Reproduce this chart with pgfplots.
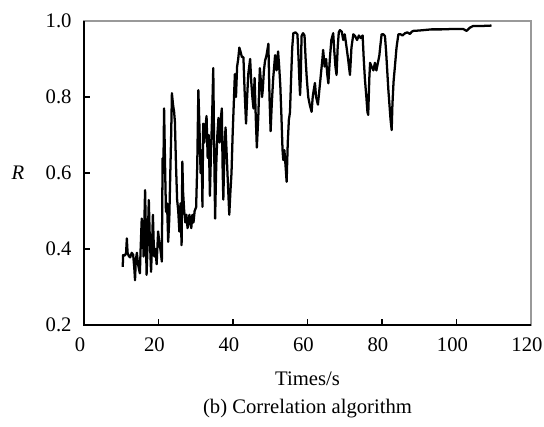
\documentclass[border=0pt]{standalone}
\usepackage{fontspec}
\setmainfont{Liberation Serif}
\usepackage{pgfplots}
\pgfplotsset{compat=1.18}
\usetikzlibrary{calc}
\begin{document}
\fontsize{15.5}{18}\selectfont
\begin{tikzpicture}
\useasboundingbox (-63pt,-75.75pt) rectangle (345pt,243.75pt);
\begin{axis}[
  name=ax,
  at={(0,0)}, anchor=south west,
  width=335.25pt, height=228pt, scale only axis,
  xmin=0, xmax=120, ymin=0.2, ymax=1.0,
  xtick={0,20,...,120},
  ytick={0.2,0.4,0.6,0.8,1.0},
  yticklabels={0.2,0.4,0.6,0.8,1.0},
  xtick pos=bottom, ytick pos=left,
  tick align=inside,
  major tick length=4.5pt,
  tick style={black, line width=1pt},
  axis line style={draw=gray!80, line width=1.1pt},
  /pgf/number format/assume math mode=true,
  ticklabel style={font=\fontsize{15.5}{18}\selectfont},
  xticklabel style={yshift=-4pt, xshift=-3pt},
  yticklabel style={xshift=-4pt},
  xlabel={Times/s},
  xlabel style={font=\fontsize{15.5}{18}\selectfont, yshift=-5pt},
  clip=false,
]
\draw[black, line width=1.6pt] (rel axis cs:0,1) -- (rel axis cs:0,0) -- (rel axis cs:1,0);
\addplot[black, line width=1.7pt, line join=round, mark=none] coordinates {
(10.4,0.353) (10.5,0.384) (11.0,0.383) (11.3,0.39) (11.5,0.428) (11.7,0.39)
(12.0,0.382) (12.4,0.378) (12.8,0.39) (13.2,0.385) (13.5,0.35) (13.7,0.318)
(13.9,0.37) (14.2,0.39) (14.5,0.36) (15.0,0.336) (15.2,0.40) (15.5,0.48)
(15.8,0.45) (16.0,0.38) (16.2,0.47) (16.4,0.555) (16.6,0.45) (16.8,0.332)
(17.1,0.42) (17.4,0.529) (17.6,0.45) (18.0,0.34) (18.3,0.42) (18.5,0.49)
(18.7,0.42) (18.9,0.38) (19.2,0.40) (19.5,0.36) (19.9,0.446) (20.2,0.42)
(20.5,0.40) (20.9,0.367) (21.1,0.639) (21.3,0.60) (21.5,0.77) (21.8,0.60)
(22.0,0.498) (22.3,0.52) (22.6,0.419) (22.9,0.48) (23.1,0.57) (23.4,0.70)
(23.6,0.81) (23.9,0.78) (24.2,0.76) (24.4,0.735) (24.7,0.62) (25.0,0.53)
(25.3,0.50) (25.6,0.446) (25.9,0.52) (26.2,0.41) (26.4,0.63) (26.6,0.55)
(26.9,0.50) (27.2,0.47) (27.5,0.49) (27.8,0.455) (28.1,0.47) (28.3,0.49)
(28.6,0.47) (28.8,0.455) (29.1,0.49) (29.4,0.47) (29.7,0.50) (30.1,0.51)
(30.4,0.62) (30.7,0.818) (31.0,0.72) (31.3,0.60) (31.6,0.66) (31.8,0.511)
(32.0,0.73) (32.3,0.68) (32.6,0.72) (32.9,0.75) (33.2,0.64) (33.5,0.70)
(33.8,0.54) (34.1,0.66) (34.4,0.75) (34.7,0.876) (34.9,0.70) (35.2,0.48)
(35.5,0.62) (35.8,0.70) (36.1,0.745) (36.4,0.68) (36.7,0.74) (37.0,0.77)
(37.2,0.62) (37.4,0.53) (37.7,0.66) (38.0,0.72) (38.3,0.65) (38.6,0.58)
(39.0,0.49) (39.3,0.55) (39.6,0.60) (39.9,0.70) (40.2,0.78) (40.5,0.86)
(40.8,0.80) (41.1,0.88) (41.4,0.90) (41.7,0.93) (42.0,0.92) (42.4,0.905)
(42.8,0.905) (43.1,0.82) (43.5,0.73) (43.8,0.80) (44.1,0.86) (44.6,0.90)
(44.9,0.84) (45.2,0.80) (45.5,0.77) (45.8,0.85) (46.1,0.75) (46.4,0.667)
(46.8,0.75) (47.2,0.876) (47.5,0.84) (47.8,0.80) (48.0,0.82) (48.3,0.87)
(48.6,0.895) (49.0,0.91) (49.5,0.94) (49.8,0.80) (50.1,0.71) (50.4,0.78)
(50.8,0.85) (51.3,0.91) (51.7,0.87) (52.1,0.92) (52.4,0.88) (52.7,0.83)
(53.0,0.75) (53.3,0.66) (53.5,0.634) (53.8,0.66) (54.1,0.62) (54.4,0.577)
(54.7,0.68) (55.0,0.74) (55.3,0.76) (55.6,0.85) (55.9,0.93) (56.2,0.968)
(56.8,0.97) (57.3,0.965) (57.6,0.90) (57.8,0.85) (58.0,0.805) (58.2,0.85)
(58.4,0.96) (58.8,0.968) (59.2,0.962) (59.5,0.90) (59.8,0.85) (60.2,0.80)
(60.6,0.78) (61.1,0.761) (61.4,0.80) (61.7,0.82) (62.0,0.837) (62.3,0.80)
(62.8,0.78) (63.2,0.82) (63.6,0.86) (64.0,0.90) (64.2,0.924) (64.6,0.88)
(65.0,0.90) (65.3,0.86) (65.6,0.836) (66.0,0.90) (66.4,0.95) (66.9,0.968)
(67.2,0.92) (67.5,0.88) (67.8,0.858) (68.1,0.93) (68.4,0.97) (68.7,0.976)
(69.2,0.972) (69.6,0.95) (70.0,0.965) (70.5,0.93) (70.9,0.90) (71.4,0.858)
(71.8,0.93) (72.3,0.965) (72.8,0.96) (73.3,0.95) (73.8,0.962) (74.3,0.955)
(74.8,0.962) (75.1,0.90) (75.4,0.849) (75.8,0.80) (76.1,0.76) (76.3,0.753)
(76.6,0.85) (76.8,0.89) (77.2,0.88) (77.7,0.87) (78.1,0.89) (78.5,0.87)
(78.9,0.89) (79.3,0.91) (79.5,0.93) (79.9,0.965) (80.4,0.965) (80.8,0.96)
(81.1,0.92) (81.4,0.87) (81.7,0.82) (82.0,0.78) (82.3,0.74) (82.6,0.713)
(82.8,0.78) (83.1,0.84) (83.5,0.884) (83.9,0.93) (84.4,0.965) (85.0,0.965)
(85.5,0.962) (86.2,0.968) (86.8,0.97) (87.5,0.966) (88.0,0.972) (88.4,0.974)
(90,0.975) (93.3,0.978) (96,0.978) (99,0.979) (101.8,0.979) (102.7,0.974)
(103.5,0.982) (104.5,0.987) (107,0.987) (109.4,0.988)
};
\end{axis}
\node[font=\fontsize{15.5}{18}\selectfont] at ($(ax.west)+(-49.5pt,0)$) {\textit{R}};
\node[font=\fontsize{15.5}{18}\selectfont] at ($(ax.south)+(0,-63pt)$) {(b) Correlation algorithm};
\end{tikzpicture}
\end{document}
